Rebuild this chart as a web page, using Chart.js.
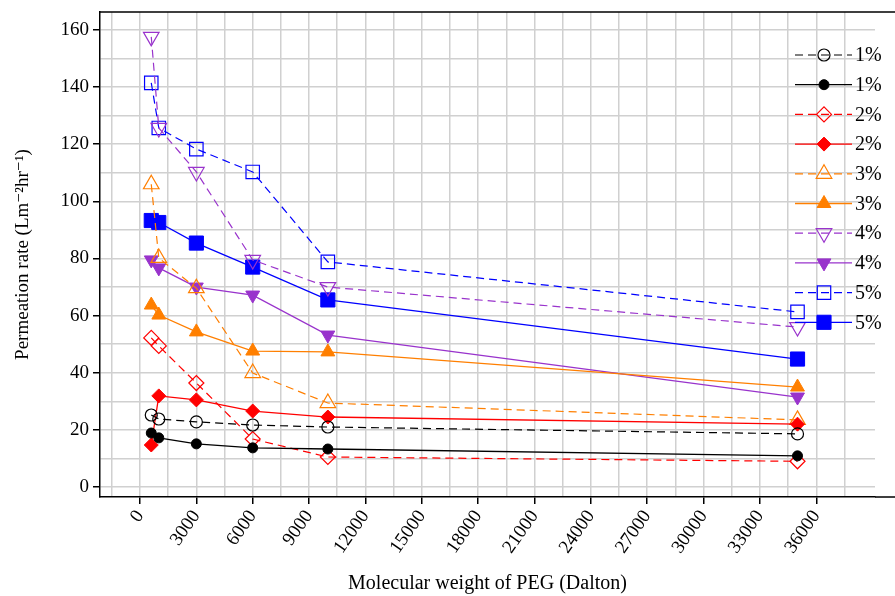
<!DOCTYPE html>
<html>
<head>
<meta charset="utf-8">
<script src="https://cdn.jsdelivr.net/npm/chart.js@4.4.1/dist/chart.umd.min.js"></script>
<style>
  html, body { margin: 0; padding: 0; background: #fff; }
  #wrap { width: 895px; height: 596px; }
</style>
</head>
<body>
<div id="wrap"><canvas id="myChart" width="895" height="596"></canvas></div>
<script>
// molecular weight of PEG (Dalton)
var peg = [600, 1000, 3000, 6000, 10000, 35000];

// permeation rate, open markers / filled markers for each concentration
var open1 = [25.2, 23.8, 22.8, 21.7, 21.0, 18.6];
var fill1 = [18.9, 17.2, 15.1, 13.7, 13.3, 10.9];
var open2 = [52.2, 49.4, 36.4, 16.8, 10.5, 9.0];
var fill2 = [14.7, 31.9, 30.5, 26.6, 24.5, 22.0];
var open3 = [106.0, 80.2, 69.6, 39.9, 29.4, 23.5];
var fill3 = [63.7, 60.2, 54.3, 47.6, 47.3, 35.0];
var open4 = [157.6, 125.7, 110.3, 79.5, 70.0, 56.0];
var fill4 = [79.5, 76.7, 70.0, 67.2, 53.2, 31.5];
var open5 = [141.5, 125.7, 118.3, 110.3, 78.8, 61.3];
var fill5 = [93.3, 92.6, 85.4, 77.0, 65.5, 44.8];

var seriesNames = ['1%', '1%', '2%', '2%', '3%', '3%', '4%', '4%', '5%', '5%'];

var xTicks = [0, 3000, 6000, 9000, 12000, 15000, 18000, 21000, 24000, 27000, 30000, 33000, 36000];
var yTicks = [0, 20, 40, 60, 80, 100, 120, 140, 160];

var serif = "'Liberation Serif', 'DejaVu Serif', serif";

function pts(vals) {
    return peg.map(function (x, i) { return {x: x, y: vals[i]}; });
}

function series(label, vals, color, style, open, radius, rot) {
    return {
        label: label,
        data: pts(vals),
        borderColor: color,
        borderWidth: open ? 1.2 : 1.3,
        borderDash: open ? [8, 5] : [],
        pointStyle: style,
        pointRadius: radius,
        pointRotation: rot || 0,
        pointBorderColor: color,
        pointBorderWidth: open ? 1.2 : 1,
        pointBackgroundColor: open ? 'rgba(0,0,0,0)' : color,
        fill: false,
        tension: 0
    };
}

var black = '#000000', red = '#ff0000', orange = '#ff7f00', purple = '#9933cc', blue = '#0000ff';

var datasets = [
    series(seriesNames[0], open1, black, 'circle', true, 6),
    series(seriesNames[1], fill1, black, 'circle', false, 5),
    series(seriesNames[2], open2, red, 'rectRot', true, 7.5),
    series(seriesNames[3], fill2, red, 'rectRot', false, 7),
    series(seriesNames[4], open3, orange, 'triangle', true, 9),
    series(seriesNames[5], fill3, orange, 'triangle', false, 8),
    series(seriesNames[6], open4, purple, 'triangle', true, 9, 180),
    series(seriesNames[7], fill4, purple, 'triangle', false, 8, 180),
    series(seriesNames[8], open5, blue, 'rect', true, 9.5),
    series(seriesNames[9], fill5, blue, 'rect', false, 10)
];

// grid every half step: build the tick list by hand
function gridTicks(from, to, step) {
    var t = [];
    for (var v = from; v <= to; v += step) t.push({value: v});
    return t;
}

// legend with line sample + marker, frame top line
var extras = {
    id: 'extras',
    afterDraw: function (chart) {
        var ctx = chart.ctx;
        var a = chart.chartArea;
        ctx.save();
        ctx.strokeStyle = '#000';
        ctx.lineWidth = 1.5;
        ctx.beginPath();
        ctx.moveTo(a.left, a.top);
        ctx.lineTo(895, a.top);
        ctx.moveTo(a.right, a.bottom);
        ctx.lineTo(895, a.bottom);
        ctx.stroke();

        chart.data.datasets.forEach(function (ds, i) {
            var y = 55 + i * 29.7;
            ctx.strokeStyle = ds.borderColor;
            ctx.lineWidth = ds.borderWidth;
            ctx.setLineDash(ds.borderDash);
            ctx.beginPath();
            ctx.moveTo(795, y);
            ctx.lineTo(852, y);
            ctx.stroke();
            ctx.setLineDash([]);
            ctx.fillStyle = ds.pointBackgroundColor;
            ctx.strokeStyle = ds.pointBorderColor;
            ctx.lineWidth = ds.pointBorderWidth;
            Chart.helpers.drawPoint(ctx, {
                pointStyle: ds.pointStyle,
                radius: ds.pointRadius,
                rotation: ds.pointRotation,
                borderWidth: ds.pointBorderWidth
            }, 824, y);
            ctx.fillStyle = '#000';
            ctx.font = '20px ' + serif;
            ctx.textBaseline = 'middle';
            ctx.textAlign = 'left';
            ctx.fillText(ds.label, 855, y + 1);
        });
        ctx.restore();
    }
};

var myChart = document.getElementById('myChart').getContext('2d');
var chart1 = new Chart(myChart, {
    type: 'line',
    data: { datasets: datasets },
    plugins: [extras],
    options: {
        responsive: false,
        animation: false,
        layout: { padding: { left: 0, top: 12, right: 20, bottom: 0 } },
        plugins: {
            legend: { display: false },
            tooltip: { enabled: false }
        },
        scales: {
            x: {
                type: 'linear',
                min: -2129,
                max: 39125,
                afterFit: function (s) { s.height = 99; s.paddingLeft = 0; s.paddingRight = 0; },
                afterBuildTicks: function (s) { s.ticks = gridTicks(-1500, 37500, 1500); },
                ticks: {
                    autoSkip: false,
                    minRotation: 55,
                    maxRotation: 55,
                    padding: 2,
                    color: '#000',
                    font: { family: serif, size: 19 },
                    callback: function (v) { return xTicks.indexOf(v) >= 0 ? String(v) : ''; }
                },
                grid: {
                    lineWidth: 1.5,
                    color: '#d0d0d0',
                    tickColor: function (c) { return c.tick && xTicks.indexOf(c.tick.value) >= 0 ? '#000' : 'rgba(0,0,0,0)'; },
                    tickLength: 7
                },
                border: { color: '#000', width: 1.5 },
                title: {
                    display: true,
                    text: 'Molecular weight of PEG (Dalton)',
                    color: '#000',
                    font: { family: serif, size: 20 },
                    padding: { top: 0, bottom: 0 }
                }
            },
            y: {
                min: -3.5,
                max: 166.3,
                afterFit: function (s) { s.width = 100; s.paddingTop = 0; s.paddingBottom = 0; },
                afterBuildTicks: function (s) { s.ticks = gridTicks(0, 160, 10); },
                ticks: {
                    padding: 4,
                    color: '#000',
                    font: { family: serif, size: 19 },
                    callback: function (v) { return yTicks.indexOf(v) >= 0 ? String(v) : ''; }
                },
                grid: {
                    lineWidth: 1.5,
                    color: '#d0d0d0',
                    tickColor: function (c) { return c.tick && yTicks.indexOf(c.tick.value) >= 0 ? '#000' : 'rgba(0,0,0,0)'; },
                    tickLength: 7
                },
                border: { color: '#000', width: 1.5 },
                title: {
                    display: true,
                    text: 'Permeation rate (Lm\u207B\u00B2hr\u207B\u00B9)',
                    color: '#000',
                    font: { family: serif, size: 19 },
                    padding: { top: 12, bottom: 0 }
                }
            }
        }
    }
});
</script>
</body>
</html>
